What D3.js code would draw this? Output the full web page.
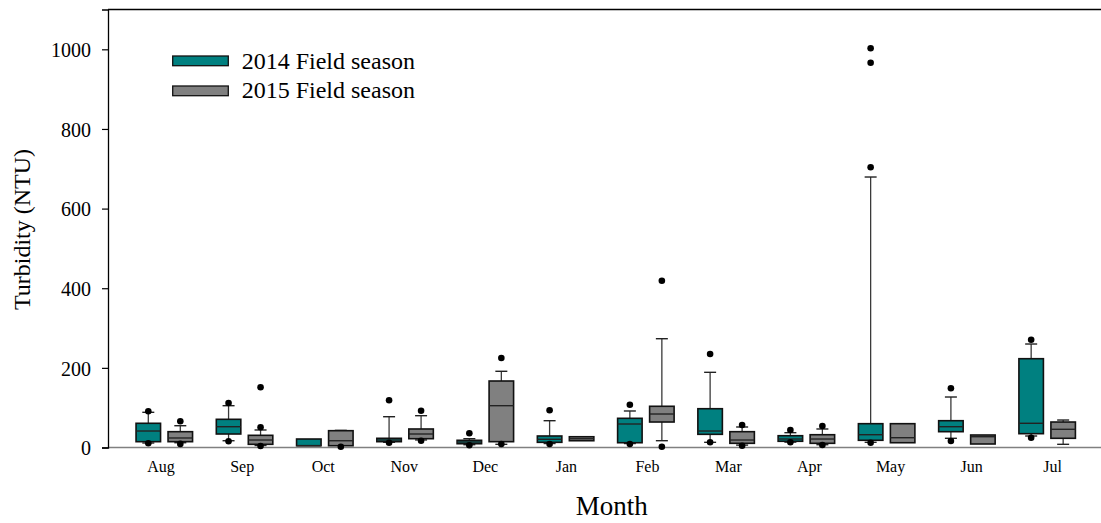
<!DOCTYPE html>
<html>
<head>
<meta charset="utf-8">
<script src="https://cdn.jsdelivr.net/npm/d3@7"></script>
<style>
  html, body { margin: 0; padding: 0; background: #fff; }
  svg { display: block; }
  text { font-family: "Liberation Serif", "Times New Roman", serif; fill: #000; }
</style>
</head>
<body>
<svg id="chart" width="1101" height="523"></svg>
<script>
// ---------- data ----------
const months = ["Aug","Sep","Oct","Nov","Dec","Jan","Feb","Mar","Apr","May","Jun","Jul"];
const seasons = ["2014 Field season","2015 Field season"];
const yTicks = [0, 200, 400, 600, 800, 1000];

// 2014 field season
const q1_2014  = [14.6, 33.9, 4.5, 14.6, 9.5, 13, 12, 33.1, 15.6, 18.1, 39.7, 34.7];
const med_2014 = [41.4, 52.2, 4.5, 18.8, 13.8, 20.6, 59, 41.4, 21.3, 32.1, 52.2, 60.8];
const q3_2014  = [60.8, 70.8, 21.3, 23.1, 18.1, 28.9, 73.3, 97.4, 29.6, 59.8, 67.3, 223];
const lo_2014  = [11.3, 17, null, 13, 7, 10, 10, 13, 13.5, 13, 23.1, 28.9];
const hi_2014  = [88.4, 105, null, 77.3, 22.1, 67.3, 91.7, 188.8, 37.2, 679.3, 126.8, 259.9];
const out_2014 = [[91, 10.5], [111.8, 15.6], [], [118.5, 12], [35.7, 5.5], [93.4, 8.8],
                  [107.5, 8.8], [234.8, 13], [43.9, 13], [1002.5, 966.4, 703.7, 12], [148.7, 16.3], [270.7, 24.6]];

// 2015 field season
const q1_2015  = [14.6, 8, 4.5, 22.1, 14.6, 17, 64, 10.5, 10.5, 12, 8.8, 23.1];
const med_2015 = [23.9, 18.8, 17, 33.9, 105, 22, 84.1, 18.8, 21.3, 24.6, 27.1, 45.7];
const q3_2015  = [39.7, 30.6, 42.2, 46.5, 167, 27, 103.5, 39.7, 32.1, 59.8, 31.4, 64];
const lo_2015  = [12, 5, null, 19, 8, null, 17.1, 6, 7, null, null, 8];
const hi_2015  = [54.7, 44, 43, 79.9, 191.4, null, 273.2, 51.5, 46.5, null, null, 69];
const out_2015 = [[65.8, 9], [151.2, 50.7, 3.8], [2], [92.4, 17.1], [224.8, 8.8], [],
                  [418.9, 2], [56.5, 4.5], [54, 6.3], [], [], []];

const colors = ["#008080", "#808080"];

// ---------- build ----------
(function () {
const seriesData = [
  {season: seasons[0], q1: q1_2014, med: med_2014, q3: q3_2014, lo: lo_2014, hi: hi_2014, out: out_2014},
  {season: seasons[1], q1: q1_2015, med: med_2015, q3: q3_2015, lo: lo_2015, hi: hi_2015, out: out_2015}
];
const boxes = [];
seriesData.forEach((s, si) => {
  months.forEach((m, i) => {
    boxes.push({month: m, season: s.season, si, q1: s.q1[i], med: s.med[i], q3: s.q3[i],
                lo: s.lo[i], hi: s.hi[i], out: s.out[i]});
  });
});

const svg = d3.select("#chart");
const pLeft = 108, pTop = 9.5, pBottom = 447.5, pRight = 1101;

const y = d3.scaleLinear().domain([0, 1100]).range([pBottom, pTop]);

// group positions for boxes
const step = 80.26;
const firstCentre = 164.3;
const x = d3.scaleBand().domain(months)
  .range([firstCentre - step / 2, firstCentre - step / 2 + step * months.length])
  .paddingInner(0).paddingOuter(0);
const xSub = d3.scaleBand().domain(seasons)
  .range([x.bandwidth() / 2 - 32, x.bandwidth() / 2 + 32]);
const boxW = 24.5, capW = 12;

// label positions
const xLab = d3.scalePoint().domain(months).range([160.6, 160.6 + 81.05 * 11]);

// frame: top line
svg.append("line").attr("x1", pLeft).attr("x2", pRight).attr("y1", pTop).attr("y2", pTop)
  .attr("stroke", "#000").attr("stroke-width", 1.3);

// x axis line (grey)
svg.append("line").attr("x1", pLeft).attr("x2", pRight).attr("y1", pBottom).attr("y2", pBottom)
  .attr("stroke", "#808080").attr("stroke-width", 1.6);

// y axis
const yAxis = svg.append("g").attr("transform", `translate(${pLeft},0)`)
  .call(d3.axisLeft(y).tickValues(yTicks).tickSize(6).tickPadding(11).tickFormat(d3.format("d")));
yAxis.select(".domain").attr("stroke", "#000").attr("stroke-width", 1.3);
yAxis.selectAll(".tick line").attr("stroke", "#000").attr("stroke-width", 1.2);
yAxis.selectAll(".tick text").attr("font-size", 20).attr("font-family", "Liberation Serif")
  .attr("dy", "0.36em").attr("fill", "#000");

// x axis labels
const xAxis = svg.append("g").attr("transform", `translate(0,${pBottom})`)
  .call(d3.axisBottom(xLab).tickSize(0).tickPadding(0));
xAxis.select(".domain").remove();
xAxis.selectAll(".tick text").attr("font-size", 16).attr("font-family", "Liberation Serif")
  .attr("dy", null).attr("y", 24.2).attr("fill", "#000");

// titles
svg.append("text").attr("x", 611.7).attr("y", 515).attr("text-anchor", "middle")
  .attr("font-size", 27).text("Month");
svg.append("text").attr("transform", "translate(30,229.5) rotate(-90)")
  .attr("text-anchor", "middle").attr("font-size", 24).text("Turbidity (NTU)");

// boxes
const g = svg.append("g");
const bx = d => x(d.month) + xSub(d.season) + xSub.bandwidth() / 2;

const bg = g.selectAll("g.box").data(boxes).join("g").attr("class", "box");

// whiskers
bg.filter(d => d.hi != null).append("line")
  .attr("x1", bx).attr("x2", bx).attr("y1", d => y(d.q3)).attr("y2", d => y(d.hi))
  .attr("stroke", "#3a3a3a").attr("stroke-width", 1.3);
bg.filter(d => d.hi != null).append("line")
  .attr("x1", d => bx(d) - capW / 2).attr("x2", d => bx(d) + capW / 2)
  .attr("y1", d => y(d.hi)).attr("y2", d => y(d.hi))
  .attr("stroke", "#222").attr("stroke-width", 1.4);
bg.filter(d => d.lo != null).append("line")
  .attr("x1", bx).attr("x2", bx).attr("y1", d => y(d.q1)).attr("y2", d => y(d.lo))
  .attr("stroke", "#3a3a3a").attr("stroke-width", 1.3);
bg.filter(d => d.lo != null).append("line")
  .attr("x1", d => bx(d) - capW / 2).attr("x2", d => bx(d) + capW / 2)
  .attr("y1", d => y(d.lo)).attr("y2", d => y(d.lo))
  .attr("stroke", "#222").attr("stroke-width", 1.4);

// box rect
bg.append("rect")
  .attr("x", d => bx(d) - boxW / 2).attr("width", boxW)
  .attr("y", d => y(d.q3)).attr("height", d => y(d.q1) - y(d.q3))
  .attr("fill", d => colors[d.si]).attr("stroke", "#111").attr("stroke-width", 1.6);

// median
bg.append("line")
  .attr("x1", d => bx(d) - boxW / 2).attr("x2", d => bx(d) + boxW / 2)
  .attr("y1", d => y(d.med)).attr("y2", d => y(d.med))
  .attr("stroke", "#222").attr("stroke-width", 1.4);

// outliers
bg.selectAll("circle").data(d => d.out.map(v => ({v, cx: bx(d)}))).join("circle")
  .attr("cx", d => d.cx).attr("cy", d => y(d.v)).attr("r", 3.3).attr("fill", "#000");

// legend
const leg = svg.append("g");
seasons.forEach((s, i) => {
  const ly = 56 + i * 30;
  leg.append("rect").attr("x", 172.7).attr("y", ly).attr("width", 55.6).attr("height", 9.7)
    .attr("fill", colors[i]).attr("stroke", "#111").attr("stroke-width", 1.3);
  leg.append("text").attr("x", 241.7).attr("y", 68.5 + i * 29.7)
    .attr("font-size", 24).text(s);
});
})();
</script>
</body>
</html>
